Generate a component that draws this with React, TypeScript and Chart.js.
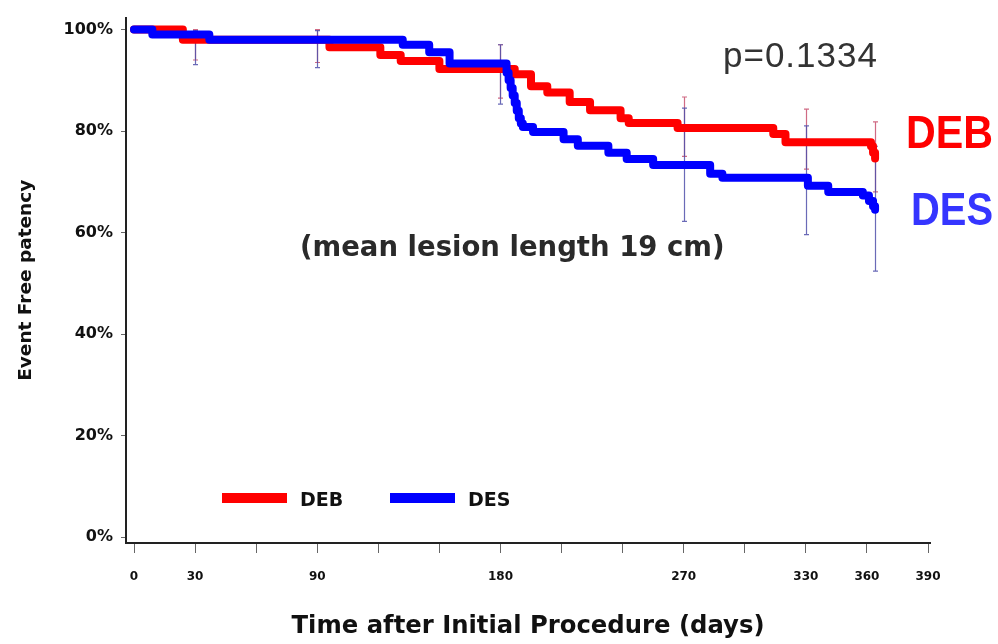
import React, { useEffect, useRef } from "react";
import { Chart, registerables } from "chart.js";

Chart.register(...registerables);

// ---- Data ----
const debDays = [0, 24, 96, 121, 131, 150, 187, 195, 203, 214, 224, 239, 243, 267, 314, 320, 362, 363, 364];
const debSurvival = [100, 98, 96.5, 95, 93.8, 92.2, 91.2, 88.8, 87.6, 85.7, 84.1, 82.5, 81.6, 80.6, 79.4, 77.8, 77, 75.7, 74.6];

const desDays = [0, 9, 37, 132, 145, 155, 183, 184, 185, 186, 187, 188, 189, 190, 191, 196, 211, 218, 233, 242, 255, 283, 289, 331, 341, 358, 361, 363, 364];
const desSurvival = [100, 99, 98, 97, 95.5, 93.3, 91.5, 90, 88.5, 87, 85.5, 84, 82.5, 81.5, 80.8, 79.8, 78.4, 77.1, 75.7, 74.5, 73.3, 71.6, 70.8, 69.2, 68, 67.3, 66.2, 65.2, 64.5];

const ciDays = [30, 90, 180, 270, 330, 364];
const debCiLow = [94.0, 93.5, 86.5, 75.0, 72.5, 68.0];
const debCiHigh = [100, 100, 97.0, 86.7, 84.3, 81.8];
const desCiLow = [93.1, 92.5, 85.3, 62.2, 59.6, 52.4];
const desCiHigh = [99.8, 99.8, 97.0, 84.5, 81.0, 77.0];

const xTickValues = [0, 30, 60, 90, 120, 150, 180, 210, 240, 270, 300, 330, 360, 390];
const xTickLabels = [0, 30, 90, 180, 270, 330, 360, 390];
const yTickValues = [0, 20, 40, 60, 80, 100];

const seriesLabels = ["DEB", "DES"];
const pValueText = "p=0.1334";
const noteText = "(mean lesion length 19 cm)";

export default function App() {
  const canvasRef = useRef<HTMLCanvasElement>(null);

  useEffect(() => {
    const canvas = canvasRef.current;
    if (!canvas) return;

    const errorBarPlugin = {
      id: "errorBars",
      beforeDatasetsDraw(chart: any) {
        const { ctx, scales } = chart;
        const xs = scales.x;
        const ys = scales.y;
        const drawSet = (lo: number[], hi: number[], color: string) => {
          ctx.save();
          ctx.strokeStyle = color;
          ctx.lineWidth = 1.2;
          ciDays.forEach((d, i) => {
            const x = Math.round(xs.getPixelForValue(d)) + 0.5;
            const y1 = ys.getPixelForValue(hi[i]);
            const y2 = ys.getPixelForValue(lo[i]);
            ctx.beginPath();
            ctx.moveTo(x, y1);
            ctx.lineTo(x, y2);
            ctx.moveTo(x - 2.5, y1);
            ctx.lineTo(x + 2.5, y1);
            ctx.moveTo(x - 2.5, y2);
            ctx.lineTo(x + 2.5, y2);
            ctx.stroke();
          });
          ctx.restore();
        };
        drawSet(debCiLow, debCiHigh, "rgba(200,80,110,0.85)");
        drawSet(desCiLow, desCiHigh, "rgba(80,80,170,0.85)");
      },
    };

    const legendPlugin = {
      id: "inlineLegend",
      afterDatasetsDraw(chart: any) {
        const { ctx, chartArea } = chart;
        const ds = chart.data.datasets;
        let x = chartArea.left + 96;
        const yc = chartArea.bottom - 45;
        ctx.save();
        ctx.font = 'bold 19px "DejaVu Sans"';
        ctx.textBaseline = "middle";
        ctx.textAlign = "left";
        ds.forEach((d: any) => {
          ctx.fillStyle = d.borderColor;
          ctx.fillRect(x, yc - 5, 65, 10);
          ctx.fillStyle = "#111";
          ctx.fillText(d.label, x + 78, yc + 3);
          x += 168;
        });
        ctx.restore();
      },
    };

    const annotationPlugin = {
      id: "annotations",
      afterDraw(chart: any) {
        const { ctx } = chart;
        ctx.save();
        ctx.textAlign = "left";
        ctx.textBaseline = "alphabetic";
        ctx.fillStyle = "#333";
        ctx.font = '35px "Liberation Sans"';
        (ctx as any).letterSpacing = "1px";
        ctx.fillText(pValueText, 723, 67);
        (ctx as any).letterSpacing = "0px";
        ctx.font = 'bold 27.5px "DejaVu Sans"';
        ctx.fillStyle = "#2a2a2a";
        ctx.fillText(noteText, 300, 256);
        ctx.font = 'bold 46px "Liberation Sans"';
        ctx.fillStyle = "#ff0000";
        ctx.fillText(seriesLabels[0], 906, 148, 87);
        ctx.fillStyle = "#3535ff";
        ctx.fillText(seriesLabels[1], 911, 225, 82);
        ctx.restore();
      },
    };

    Chart.defaults.font.family = '"DejaVu Sans"';

    const lineStyle = {
      borderWidth: 8,
      stepped: true,
      pointRadius: 0,
      fill: false,
      borderJoinStyle: "round",
      borderCapStyle: "round",
    };

    const chart = new Chart(canvas, {
      type: "line",
      data: {
        datasets: [
          {
            ...lineStyle,
            label: seriesLabels[0],
            data: debDays.map((d, i) => ({ x: d, y: debSurvival[i] })),
            borderColor: "#ff0000",
            backgroundColor: "#ff0000",
            order: 1,
          },
          {
            ...lineStyle,
            label: seriesLabels[1],
            data: desDays.map((d, i) => ({ x: d, y: desSurvival[i] })),
            borderColor: "#0000ff",
            backgroundColor: "#0000ff",
            order: 0,
          },
        ],
      },
      options: {
        responsive: false,
        devicePixelRatio: 1,
        animation: false,
        layout: { padding: { top: 15, right: 68, left: 0, bottom: 0 } },
        plugins: {
          legend: { display: false },
          tooltip: { enabled: false },
        },
        scales: {
          x: {
            type: "linear",
            min: -3.93,
            max: 390.98,
            afterBuildTicks: (s: any) => {
              s.ticks = xTickValues.map((v) => ({ value: v }));
            },
            afterFit: (s: any) => {
              s.height = 101;
            },
            grid: { display: true, drawOnChartArea: false, drawTicks: true, tickLength: 10, color: "#666", lineWidth: 1 },
            border: { display: true, color: "#222", width: 2 },
            ticks: {
              autoSkip: false,
              maxRotation: 0,
              padding: 17,
              color: "#111",
              font: { size: 12, weight: "bold" },
              callback: (v: any) => (xTickLabels.includes(Number(v)) ? String(v) : ""),
            },
            title: {
              display: true,
              text: "Time after Initial Procedure (days)",
              color: "#111",
              font: { size: 24.3, weight: "bold" },
              padding: { top: 0, bottom: 3 },
            },
          },
          y: {
            type: "linear",
            min: -1.18,
            max: 102.35,
            afterBuildTicks: (s: any) => {
              s.ticks = yTickValues.map((v) => ({ value: v }));
            },
            afterFit: (s: any) => {
              s.width = 126;
            },
            grid: { display: true, drawOnChartArea: false, drawTicks: true, tickLength: 5, color: "#666", lineWidth: 1 },
            border: { display: true, color: "#222", width: 2 },
            ticks: {
              padding: 8,
              color: "#111",
              font: { size: 16, weight: "bold" },
              callback: (v: any) => `${v}%`,
            },
            title: {
              display: true,
              text: "Event Free patency",
              color: "#111",
              font: { size: 18.5, weight: "bold" },
              padding: { top: 15, bottom: 0 },
            },
          },
        },
      },
      plugins: [errorBarPlugin, legendPlugin, annotationPlugin],
    } as any);

    return () => {
      chart.destroy();
    };
  }, []);

  return (
    <div style={{ position: "absolute", left: 0, top: 0, width: 998, height: 644, background: "#fff" }}>
      <canvas ref={canvasRef} width={998} height={644} style={{ display: "block" }} />
    </div>
  );
}
